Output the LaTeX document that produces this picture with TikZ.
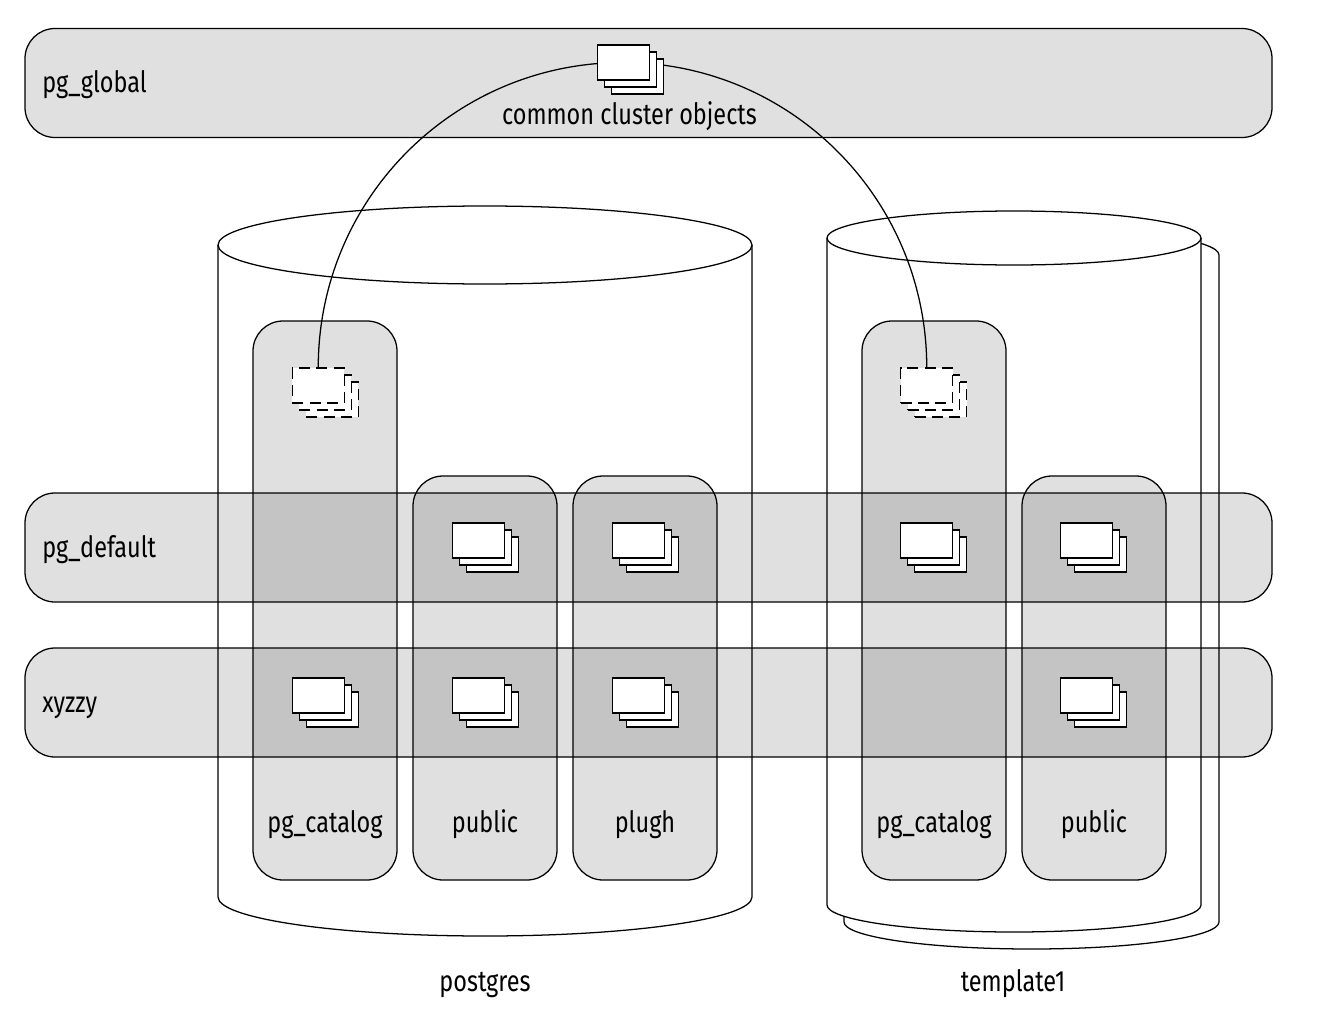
\documentclass[tikz,border=0pt]{standalone}
\usepackage{fontspec}
\setmainfont[FakeStretch=0.80]{Fira Sans}
\newcommand{\docstack}[4]{% name, x, y, style
  \foreach \k/\s in {3/c,2/b,1/a}{
    \node[#4] (#1\s) at ({#2+26.25+(\k-1)*7},{#3+17.5+(\k-1)*7}) {};
  }
}
\tikzset{
  ln/.style={line width=0.95pt,draw=black},
  sheet/.style={ln,fill=white,inner sep=0pt,outer sep=0pt,minimum width=39pt,minimum height=26.25pt},
  dashsheet/.style={sheet,dash pattern=on 8.25pt off 4.75pt},
  tint/.style={ln,fill=black,fill opacity=0.122,draw opacity=1,inner sep=0pt,outer sep=0pt,rounded corners=22.5pt},
  band/.style={tint,minimum width=935.25pt,minimum height=81.75pt},
  schemaA/.style={tint,minimum width=108pt,minimum height=419.25pt},
  schemaB/.style={tint,minimum width=108pt,minimum height=303pt},
  lab/.style={font=\fontsize{22pt}{24pt}\selectfont,inner sep=0pt,text=black,anchor=base},
  labl/.style={lab,anchor=base west},
  arcline/.style={ln},
}
\begin{document}
\begin{tikzpicture}[x=0.75pt,y=-0.75pt]
\useasboundingbox (0,0) rectangle (1328,1024);
% global band
\node[band] (global) at (648.5,83) {};
% template1 back
\draw[ln,fill=white] (844,255) -- (844,922) arc[start angle=180,end angle=360,x radius=187.5,y radius=-27] -- (1219,255) arc[start angle=0,end angle=180,x radius=187.5,y radius=-27] -- cycle;
% template1 front
\draw[ln,fill=white] (827,238) -- (827,905) arc[start angle=180,end angle=360,x radius=187,y radius=-27] -- (1201,238) arc[start angle=0,end angle=180,x radius=187,y radius=-27] -- cycle;
\draw[ln] (827,238) arc[start angle=180,end angle=360,x radius=187,y radius=-27];
% postgres
\draw[ln,fill=white] (218,245) -- (218,897) arc[start angle=180,end angle=360,x radius=267,y radius=-39] -- (752,245) arc[start angle=0,end angle=180,x radius=267,y radius=-39] -- cycle;
\draw[ln] (218,245) arc[start angle=180,end angle=360,x radius=267,y radius=-39];
% schemas
\node[schemaA] (catA) at (325,600.5) {};
\node[schemaB] (pubA) at (485,678) {};
\node[schemaB] (plu) at (645,678) {};
\node[schemaA] (catB) at (934,600.5) {};
\node[schemaB] (pubB) at (1094,678) {};
% tablespace bands
\node[band] (default) at (648.5,547.5) {};
\node[band] (xyzzy) at (648.5,702.5) {};
% stacks
\docstack{dcA}{292}{368}{dashsheet}
\docstack{dcB}{900.5}{368}{dashsheet}
\coordinate (gc) at (623,62.5);
\draw[arcline] (dcAa.north) .. controls (318,199) and (454,62.5) .. (gc);
\draw[arcline] (dcBa.north) .. controls (927,199) and (791,62.5) .. (gc);
\docstack{g}{597}{45}{sheet}
\docstack{s1}{452}{523}{sheet}
\docstack{s2}{612}{523}{sheet}
\docstack{s3}{900.5}{523}{sheet}
\docstack{s4}{1060.5}{523}{sheet}
\docstack{s5}{292}{678}{sheet}
\docstack{s6}{452}{678}{sheet}
\docstack{s7}{612}{678}{sheet}
\docstack{s8}{1060.5}{678}{sheet}
% labels
\node[labl] (t1) at (42,93) {pg\_global};
\node[labl] (t2) at (42,557) {pg\_default};
\node[labl] (t3) at (42,712) {xyzzy};
\node[lab] (t4) at (629.5,124) {common cluster objects};
\node[lab] (t5) at (325,832) {pg\_catalog};
\node[lab] (t6) at (485,832) {public};
\node[lab] (t7) at (645,832) {plugh};
\node[lab] (t8) at (934,832) {pg\_catalog};
\node[lab] (t9) at (1094,832) {public};
\node[lab] (t10) at (485,991) {postgres};
\node[lab] (t11) at (1013,991) {template1};
\end{tikzpicture}
\end{document}
